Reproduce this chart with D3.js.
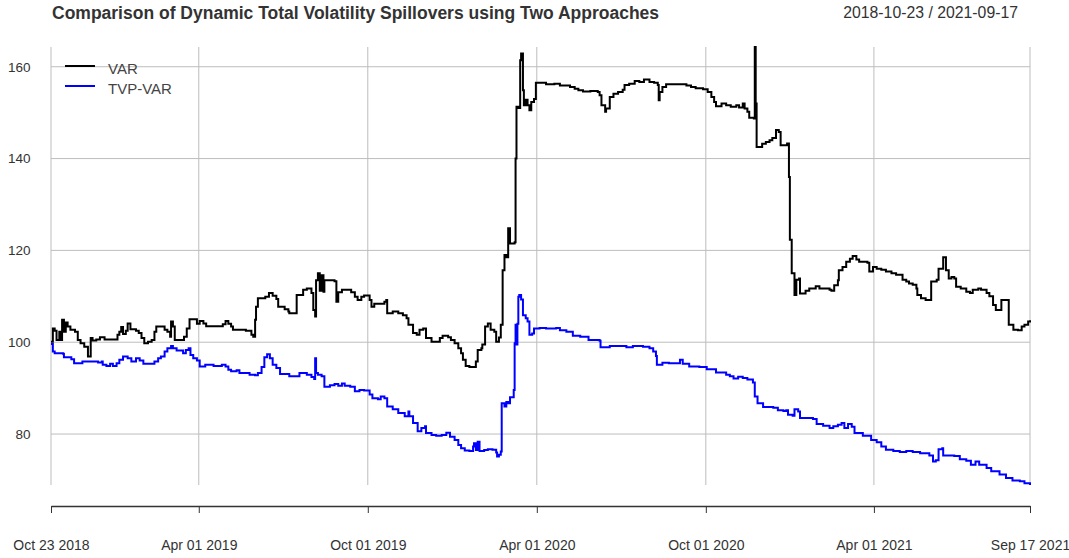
<!DOCTYPE html>
<html>
<head>
<meta charset="utf-8">
<script src="https://cdn.jsdelivr.net/npm/d3@7"></script>
<style>
  body { margin: 0; background: #fff; font-family: "Liberation Sans", Arial, sans-serif; }
</style>
</head>
<body>
<script>
// dynamic total spillover, VAR (rolling window) approach
const varDates = [
  "2018-10-23","2018-10-25","2018-10-27","2018-10-29","2018-11-01","2018-11-02","2018-11-04","2018-11-06",
  "2018-11-08","2018-11-10","2018-11-13","2018-11-18","2018-11-21","2018-11-24","2018-11-28","2018-12-02",
  "2018-12-05","2018-12-07","2018-12-11","2018-12-15","2018-12-20","2019-01-01","2019-01-03","2019-01-05",
  "2019-01-07","2019-01-09","2019-01-12","2019-01-14","2019-01-17","2019-01-23","2019-01-26","2019-01-29",
  "2019-02-01","2019-02-05","2019-02-09","2019-02-12","2019-02-14","2019-02-19","2019-02-23","2019-02-26",
  "2019-03-01","2019-03-02","2019-03-04","2019-03-06","2019-03-13","2019-03-16","2019-03-19","2019-03-22",
  "2019-03-30","2019-04-02","2019-04-06","2019-04-09","2019-04-24","2019-04-27","2019-04-30","2019-05-03",
  "2019-05-06","2019-05-08","2019-05-22","2019-05-28","2019-05-30","2019-06-01","2019-06-02","2019-06-04",
  "2019-06-12","2019-06-16","2019-06-20","2019-06-24","2019-06-26","2019-07-03","2019-07-07","2019-07-08",
  "2019-07-16","2019-07-23","2019-07-27","2019-08-01","2019-08-03","2019-08-05","2019-08-06","2019-08-08",
  "2019-08-10","2019-08-12","2019-08-14","2019-08-15","2019-08-26","2019-08-28","2019-08-30","2019-09-03",
  "2019-09-13","2019-09-17","2019-09-20","2019-09-24","2019-09-27","2019-10-03","2019-10-05","2019-10-08",
  "2019-10-19","2019-10-21","2019-10-22","2019-10-28","2019-11-03","2019-11-08","2019-11-12","2019-11-14",
  "2019-11-19","2019-11-23","2019-11-26","2019-11-30","2019-12-03","2019-12-09","2019-12-14","2019-12-18",
  "2019-12-21","2019-12-27","2019-12-30","2020-01-03","2020-01-07","2020-01-10","2020-01-12","2020-01-15",
  "2020-01-19","2020-01-24","2020-01-26","2020-01-28","2020-02-01","2020-02-02","2020-02-05","2020-02-08",
  "2020-02-11","2020-02-15","2020-02-17","2020-02-20","2020-02-22","2020-02-24","2020-02-26","2020-02-28",
  "2020-03-01","2020-03-03","2020-03-08","2020-03-09","2020-03-10","2020-03-12","2020-03-14","2020-03-15",
  "2020-03-17","2020-03-18","2020-03-20","2020-03-22","2020-03-24","2020-03-26","2020-03-29","2020-03-31",
  "2020-04-11","2020-04-20","2020-04-26","2020-05-07","2020-05-12","2020-05-16","2020-05-21","2020-05-29",
  "2020-06-06","2020-06-08","2020-06-10","2020-06-14","2020-06-15","2020-06-19","2020-06-23","2020-06-28",
  "2020-07-03","2020-07-05","2020-07-10","2020-07-16","2020-07-21","2020-07-26","2020-08-01","2020-08-06",
  "2020-08-10","2020-08-11","2020-08-12","2020-08-15","2020-08-19","2020-09-04","2020-09-10","2020-09-15",
  "2020-09-20","2020-09-28","2020-10-03","2020-10-07","2020-10-10","2020-10-12","2020-10-18","2020-10-23",
  "2020-10-28","2020-11-03","2020-11-06","2020-11-10","2020-11-12","2020-11-15","2020-11-17","2020-11-22",
  "2020-11-23","2020-11-24","2020-11-25","2020-12-01","2020-12-05","2020-12-09","2020-12-12","2020-12-16",
  "2020-12-19","2020-12-21","2020-12-28","2020-12-30","2020-12-31","2021-01-02","2021-01-05","2021-01-07",
  "2021-01-10","2021-01-11","2021-01-17","2021-01-21","2021-01-28","2021-02-01","2021-02-06","2021-02-12",
  "2021-02-14","2021-02-17","2021-02-21","2021-02-22","2021-02-26","2021-03-02","2021-03-06","2021-03-09",
  "2021-03-13","2021-03-16","2021-03-22","2021-03-25","2021-03-27","2021-03-31","2021-04-04","2021-04-09",
  "2021-04-14","2021-04-20","2021-04-25","2021-05-02","2021-05-06","2021-05-09","2021-05-13","2021-05-17",
  "2021-05-18","2021-05-22","2021-05-27","2021-05-31","2021-06-02","2021-06-08","2021-06-10","2021-06-15",
  "2021-06-18","2021-06-21","2021-06-24","2021-06-27","2021-06-29","2021-07-04","2021-07-10","2021-07-14",
  "2021-07-17","2021-07-23","2021-07-26","2021-08-01","2021-08-04","2021-08-08","2021-08-11","2021-08-15",
  "2021-08-17","2021-08-24","2021-08-25","2021-08-30","2021-09-04","2021-09-08","2021-09-11","2021-09-15",
  "2021-09-17"
];
const varValues = [
  100.1,103.0,102.5,100.5,102.3,100.5,104.9,102.3,
  104.3,103.4,102.7,102.3,100.5,99.8,99.0,96.9,
  100.9,100.4,100.6,101.1,100.6,100.6,101.6,102.3,
  103.3,101.8,102.5,104.1,102.8,102.5,102.0,100.9,
  99.8,100.1,100.5,102.3,103.4,103.4,102.7,102.3,
  101.2,104.5,103.4,100.5,100.5,101.2,103.0,105.0,
  104.0,104.6,104.1,103.5,103.5,103.9,104.6,104.0,
  103.4,102.7,102.5,101.6,101.2,104.9,107.7,109.6,
  109.9,110.7,110.1,109.4,107.7,107.2,106.7,106.3,
  110.3,111.4,111.7,110.7,107.0,105.6,113.5,115.0,
  111.2,114.6,111.0,113.5,113.3,108.8,110.9,111.4,
  110.9,109.9,109.2,109.9,110.2,109.2,107.7,108.4,
  108.8,109.2,106.3,106.7,106.3,105.9,105.2,103.8,
  102.0,101.6,102.7,103.0,100.9,100.1,100.1,100.9,
  101.4,101.1,100.5,99.8,98.7,97.6,96.2,94.8,
  94.6,94.6,95.8,98.3,98.7,99.5,103.4,104.1,
  102.7,102.3,100.1,101.0,103.8,115.7,119.0,118.5,
  124.8,121.5,121.8,140.0,151.3,151.0,161.4,162.9,
  154.9,151.6,152.8,151.6,150.5,152.3,153.0,156.5,
  156.2,156.3,155.9,155.6,155.2,154.9,154.6,154.7,
  154.5,153.8,151.6,150.2,150.9,153.4,154.1,154.5,
  155.0,156.0,156.3,156.9,156.7,157.2,156.7,156.5,
  156.0,152.7,154.5,155.6,156.2,156.2,155.9,155.6,
  155.3,155.1,154.5,153.4,152.3,151.4,152.0,151.6,
  151.3,151.6,151.1,152.0,150.9,150.2,148.9,148.7,
  164.3,152.0,142.5,143.2,143.6,144.0,144.5,146.2,
  145.8,142.9,143.3,136.0,122.3,115.0,110.3,113.6,
  113.9,110.6,111.2,111.7,112.2,111.7,111.7,111.4,
  111.2,112.4,113.5,115.7,116.4,117.5,118.2,118.8,
  118.0,117.5,117.5,117.3,115.4,116.4,116.0,115.8,
  115.4,115.0,114.7,113.6,113.2,112.8,112.5,111.7,
  110.3,109.6,109.2,109.2,113.2,113.6,116.0,118.5,
  115.7,113.9,114.2,113.9,112.1,111.7,111.0,110.7,
  111.4,111.7,111.4,110.7,110.0,108.1,107.0,107.0,
  109.2,109.2,103.8,102.7,102.6,103.4,103.8,104.5,
  104.8
];

// dynamic total spillover, TVP-VAR approach
const tvpDates = [
  "2018-10-23","2018-10-25","2018-10-27","2018-11-05","2018-11-06","2018-11-14","2018-11-17","2018-11-23",
  "2018-11-26","2018-12-13","2018-12-17","2018-12-18","2018-12-22","2018-12-26","2018-12-29","2019-01-02",
  "2019-01-05","2019-01-09","2019-01-14","2019-01-18","2019-01-23","2019-01-27","2019-01-31","2019-02-07",
  "2019-02-12","2019-02-16","2019-02-19","2019-02-23","2019-02-26","2019-03-02","2019-03-04","2019-03-08",
  "2019-03-15","2019-03-18","2019-03-21","2019-03-23","2019-03-26","2019-03-30","2019-04-02","2019-04-08",
  "2019-04-17","2019-04-26","2019-04-30","2019-05-03","2019-05-06","2019-05-12","2019-05-15","2019-05-26",
  "2019-06-01","2019-06-04","2019-06-08","2019-06-11","2019-06-14","2019-06-17","2019-06-20","2019-06-24",
  "2019-06-28","2019-07-08","2019-07-19","2019-07-27","2019-08-01","2019-08-04","2019-08-05","2019-08-06",
  "2019-08-08","2019-08-12","2019-08-15","2019-08-21","2019-08-26","2019-08-30","2019-09-03","2019-09-06",
  "2019-09-12","2019-09-17","2019-09-22","2019-09-27","2019-10-03","2019-10-06","2019-10-12","2019-10-15",
  "2019-10-19","2019-10-22","2019-10-28","2019-11-03","2019-11-10","2019-11-14","2019-11-15","2019-11-19",
  "2019-11-24","2019-11-28","2019-12-02","2019-12-03","2019-12-09","2019-12-14","2019-12-20","2019-12-25",
  "2019-12-29","2020-01-03","2020-01-07","2020-01-10","2020-01-14","2020-01-19","2020-01-23","2020-01-24",
  "2020-01-26","2020-01-28","2020-01-30","2020-02-04","2020-02-08","2020-02-13","2020-02-17","2020-02-18",
  "2020-02-20","2020-02-22","2020-02-23","2020-02-26","2020-02-28","2020-03-01","2020-03-03","2020-03-07",
  "2020-03-08","2020-03-09","2020-03-10","2020-03-11","2020-03-12","2020-03-13","2020-03-15","2020-03-17",
  "2020-03-20","2020-03-22","2020-03-24","2020-03-27","2020-03-29","2020-04-04","2020-04-11","2020-04-22",
  "2020-04-26","2020-05-03","2020-05-10","2020-05-18","2020-05-27","2020-06-08","2020-06-09","2020-06-19",
  "2020-06-30","2020-07-07","2020-07-14","2020-07-25","2020-08-01","2020-08-05","2020-08-08","2020-08-09",
  "2020-08-15","2020-08-22","2020-09-01","2020-09-03","2020-09-06","2020-09-13","2020-09-24","2020-10-02",
  "2020-10-12","2020-10-23","2020-10-27","2020-10-31","2020-11-05","2020-11-10","2020-11-15","2020-11-21",
  "2020-11-23","2020-11-26","2020-12-02","2020-12-13","2020-12-18","2020-12-24","2020-12-27","2020-12-29",
  "2021-01-03","2021-01-05","2021-01-09","2021-01-11","2021-01-16","2021-01-25","2021-01-29","2021-02-05",
  "2021-02-12","2021-02-16","2021-02-21","2021-02-25","2021-02-28","2021-03-04","2021-03-08","2021-03-11",
  "2021-03-20","2021-03-29","2021-04-04","2021-04-09","2021-04-14","2021-04-22","2021-04-29","2021-05-06",
  "2021-05-13","2021-05-21","2021-05-31","2021-06-04","2021-06-07","2021-06-10","2021-06-14","2021-06-15",
  "2021-06-22","2021-06-27","2021-07-03","2021-07-10","2021-07-15","2021-07-20","2021-07-24","2021-08-01",
  "2021-08-06","2021-08-15","2021-08-22","2021-08-29","2021-09-06","2021-09-11","2021-09-17"
];
const tvpValues = [
  99.6,98.0,97.6,97.5,96.7,96.3,95.4,95.4,
  95.8,95.6,95.8,95.1,94.8,95.3,94.8,95.4,
  96.2,96.9,96.5,95.8,96.5,96.0,95.3,95.3,
  95.8,96.5,96.9,98.0,98.7,99.2,98.7,98.2,
  97.6,98.3,98.7,97.2,96.5,96.0,94.7,95.1,
  94.8,95.1,94.7,94.0,93.7,93.9,93.3,92.9,
  92.8,93.3,94.6,96.7,97.4,96.5,95.1,94.4,
  93.1,92.6,93.3,92.9,92.4,92.0,96.5,93.3,
  92.9,92.6,90.3,90.6,90.9,90.5,91.0,90.5,
  90.3,89.3,89.6,89.5,88.6,87.8,87.6,88.2,
  87.8,86.0,85.4,84.6,83.9,84.9,83.9,82.4,
  80.6,81.3,81.7,80.2,79.8,79.6,79.8,80.3,
  79.4,78.7,77.6,76.9,76.4,76.3,77.3,78.0,
  76.5,78.3,76.3,76.5,76.7,76.6,76.0,75.1,
  75.5,76.2,86.7,86.0,87.0,86.7,88.0,89.6,
  99.8,103.8,99.5,104.0,109.9,110.3,109.3,105.9,
  105.2,104.5,101.6,101.9,103.0,103.1,103.0,103.1,
  102.6,102.3,101.4,101.2,100.5,100.3,98.9,99.2,
  99.2,98.9,99.2,99.0,98.7,98.0,97.0,95.1,
  95.5,95.4,95.4,96.2,95.3,94.7,94.6,94.1,
  93.4,92.9,92.6,92.1,92.5,92.2,91.9,91.2,
  88.2,86.7,85.9,85.7,85.2,85.0,85.2,84.2,
  84.0,85.4,84.9,83.5,83.5,83.3,82.2,81.8,
  81.3,81.7,82.0,82.4,81.3,82.2,81.6,80.2,
  79.6,78.7,78.2,77.3,76.6,76.3,76.1,76.3,
  76.1,75.8,75.3,74.0,74.3,76.7,76.9,75.3,
  75.3,75.2,74.5,74.2,73.3,74.0,73.3,72.6,
  71.9,71.2,70.4,69.9,69.7,69.3,68.9
];

const seriesNames = ["VAR", "TVP-VAR"];
const seriesColors = ["#000000", "#0000ff"];
const xTickDates = ["2018-10-23","2019-04-01","2019-10-01","2020-04-01","2020-10-01","2021-04-01","2021-09-17"];
const yTicks = [80, 100, 120, 140, 160];
const titleText = "Comparison of Dynamic Total Volatility Spillovers using Two Approaches";

const width = 1069;
const height = 558;
const plotLeft = 51, plotRight = 1030, plotTop = 47, plotBottom = 485;
const axisY = 506;

const parse = d3.utcParse("%Y-%m-%d");
const fmt = d3.utcFormat("%b %d %Y");
const fmtRange = d3.utcFormat("%Y-%m-%d");

const series = [
  varDates.map((d, i) => ({ date: parse(d), value: varValues[i] })),
  tvpDates.map((d, i) => ({ date: parse(d), value: tvpValues[i] })),
];
const allPoints = series.flat();

const svg = d3.select("body").append("svg")
  .attr("width", width)
  .attr("height", height);

// scales: plot region spans the data range exactly, like plot.xts
const x = d3.scaleUtc()
  .domain(d3.extent(allPoints, (d) => d.date))
  .range([plotLeft, plotRight]);

const y = d3.scaleLinear()
  .domain(d3.extent(allPoints, (d) => d.value))
  .range([plotBottom, plotTop]);

const xTicks = xTickDates.map(parse);

// grid
svg.append("g")
  .selectAll("line")
  .data(yTicks)
  .join("line")
  .attr("x1", plotLeft).attr("x2", plotRight)
  .attr("y1", (d) => y(d)).attr("y2", (d) => y(d))
  .attr("stroke", "#bdbdbd")
  .attr("stroke-width", 1);

svg.append("g")
  .selectAll("line")
  .data(xTicks)
  .join("line")
  .attr("x1", (d) => x(d)).attr("x2", (d) => x(d))
  .attr("y1", plotTop).attr("y2", plotBottom)
  .attr("stroke", "#bdbdbd")
  .attr("stroke-width", 1);

// y labels (no tick marks)
svg.append("g")
  .selectAll("text")
  .data(yTicks)
  .join("text")
  .attr("x", 30.5)
  .attr("y", (d) => y(d))
  .attr("dy", "0.36em")
  .attr("text-anchor", "end")
  .style("font-size", "13.5px")
  .attr("fill", "#333")
  .text((d) => d);

// lines
const line = d3.line()
  .curve(d3.curveStepAfter)
  .x((d) => x(d.date))
  .y((d) => y(d.value));

svg.append("g")
  .selectAll("path")
  .data(series)
  .join("path")
  .attr("fill", "none")
  .attr("stroke", (d, i) => seriesColors[i])
  .attr("stroke-width", 2)
  .attr("d", line);

// x axis below the plot
const xAxis = d3.axisBottom(x)
  .tickValues(xTicks)
  .tickFormat(fmt)
  .tickSize(7)
  .tickSizeOuter(0)
  .tickPadding(27);

const gx = svg.append("g")
  .attr("transform", `translate(0,${axisY})`)
  .call(xAxis);
gx.select(".domain").attr("stroke", "#333").attr("stroke-width", 1.3);
gx.selectAll(".tick line").attr("stroke", "#333");
gx.selectAll(".tick text")
  .attr("fill", "#333")
  .style("font-size", "14px")
  .style("font-family", '"Liberation Sans", Arial, sans-serif');

// legend
const legend = svg.append("g")
  .selectAll("g")
  .data(seriesNames)
  .join("g")
  .attr("transform", (d, i) => `translate(65,${66 + i * 20})`);
legend.append("line")
  .attr("x1", 0).attr("x2", 30)
  .attr("stroke", (d, i) => seriesColors[i])
  .attr("stroke-width", 2);
legend.append("text")
  .attr("x", 43)
  .attr("y", 8)
  .style("font-size", "15px")
  .attr("fill", "#444")
  .text((d) => d);

// title and date range
svg.append("text")
  .attr("x", 52)
  .attr("y", 18.5)
  .style("font-size", "17.5px")
  .style("font-weight", "bold")
  .attr("fill", "#333")
  .text(titleText);

svg.append("text")
  .attr("x", 1018)
  .attr("y", 17.5)
  .attr("text-anchor", "end")
  .style("font-size", "15.8px")
  .attr("fill", "#333")
  .text(`${fmtRange(x.domain()[0])} / ${fmtRange(x.domain()[1])}`);
</script>
</body>
</html>
